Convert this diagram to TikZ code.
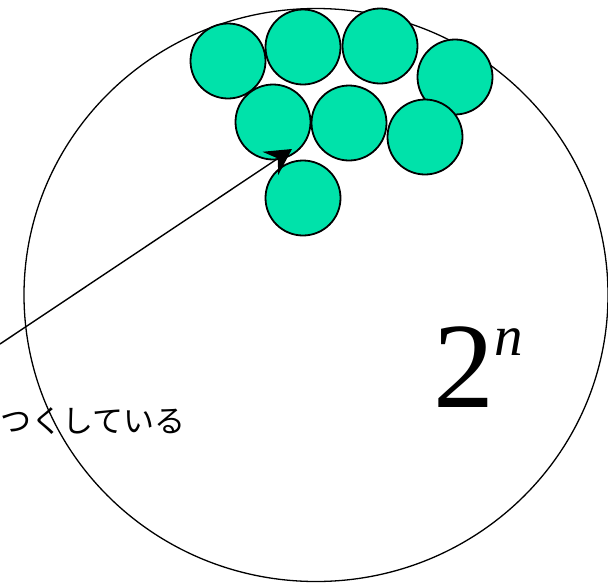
\documentclass[tikz,border=0pt]{standalone}
\usepackage{fontspec}
\setmainfont{Liberation Serif}
\newfontfamily\jfont{Noto Sans CJK JP}
\usetikzlibrary{arrows.meta,shapes.geometric}
\definecolor{mint}{RGB}{0,226,170}

\begin{document}
\begin{tikzpicture}[x=1pt,y=-1pt]
\useasboundingbox (0,0) rectangle (608,582);
\tikzstyle{bignode}=[draw, ellipse, line width=1.3pt, minimum width=584pt, minimum height=573pt, inner sep=0pt]
\tikzstyle{ball}=[draw, circle, fill=mint, line width=1.8pt, minimum size=75pt, inner sep=0pt]
\node[bignode] (U) at (316,295) {};
\node[ball] (b1) at (228,61) {};
\node[ball] (b2) at (303,47) {};
\node[ball] (b3) at (380,46) {};
\node[ball] (b4) at (455,77) {};
\node[ball] (b5) at (273,122) {};
\node[ball] (b6) at (349,123) {};
\node[ball] (b7) at (425,137) {};
\node[ball] (b8) at (303,198) {};
\node[anchor=base west, inner sep=0pt, font=\jfont\fontsize{31}{31}\selectfont] (txt) at (0,432) {つくしている};
\node[anchor=base west, inner sep=0pt, font=\fontsize{122}{122}\selectfont] (pow) at (433,407) {2};
\node[anchor=base west, inner sep=0pt, font=\itshape\fontsize{57}{57}\selectfont] (exp) at (494,355) {n};
\tikzstyle{larrow}=[-{Stealth[length=26pt,width=28pt,inset=9pt]}, line width=1.4pt]
\coordinate (tail) at (0,344);
\coordinate (tip) at (292,149);
\draw[larrow] (tail) -- (tip);
\end{tikzpicture}
\end{document}
